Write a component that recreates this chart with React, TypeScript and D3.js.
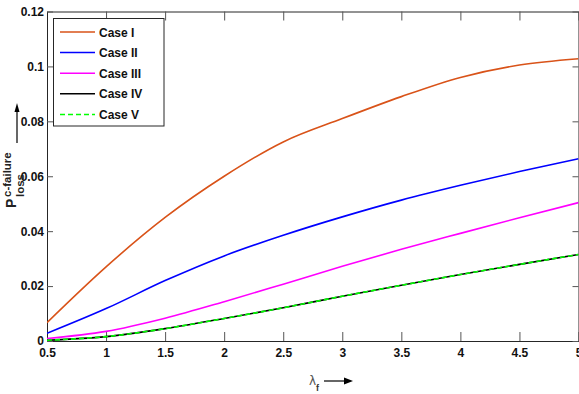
import { useRef, useEffect } from "react";
import * as d3 from "d3";

const lambdaF = [0.5, 1, 1.5, 2, 2.5, 3, 3.5, 4, 4.5, 5];
const caseI = [0.0067, 0.027, 0.045, 0.06, 0.0725, 0.081, 0.089, 0.096, 0.1005, 0.1028];
const caseII = [0.0028, 0.0118, 0.022, 0.031, 0.0385, 0.0452, 0.0513, 0.0567, 0.0617, 0.0664];
const caseIII = [0.0009, 0.0035, 0.0083, 0.0143, 0.0207, 0.0272, 0.0334, 0.0392, 0.0449, 0.0504];
const caseIV = [0.0003, 0.0016, 0.0045, 0.0082, 0.0121, 0.0163, 0.0203, 0.0242, 0.0279, 0.0315];
const caseV = [0.0003, 0.0016, 0.0045, 0.0082, 0.0121, 0.0163, 0.0203, 0.0242, 0.0279, 0.0315];

const seriesNames = ["Case I", "Case II", "Case III", "Case IV", "Case V"];
const xTicks = [0.5, 1, 1.5, 2, 2.5, 3, 3.5, 4, 4.5, 5];
const yTicks = [0, 0.02, 0.04, 0.06, 0.08, 0.1, 0.12];

const W = 579;
const H = 394;
const FONT = "'Liberation Sans Narrow', 'Arial Narrow', 'Liberation Sans', sans-serif";

export default function App() {
  const ref = useRef<SVGSVGElement | null>(null);

  useEffect(() => {
    const svg = d3.select(ref.current!);
    svg.selectAll("*").remove();

    const left = 47, right = 578.5, top = 11.5, bottom = 341;

    // scales
    const x = d3.scaleLinear().domain([0.5, 5]).range([left, right]);
    const y = d3.scaleLinear().domain([0, 0.12]).range([bottom, top]);
    const fmt = (d: any) => String(+(+d).toFixed(2));

    const styles = [
      { color: "#D95319", dash: null },
      { color: "#0000FF", dash: null },
      { color: "#FF00FF", dash: null },
      { color: "#000000", dash: null },
      { color: "#00FF00", dash: "5,3" },
    ];
    const all = [caseI, caseII, caseIII, caseIV, caseV];

    // axes
    const gx = svg.append("g").attr("transform", `translate(0,${bottom})`)
      .call(d3.axisBottom(x).tickValues(xTicks).tickFormat(fmt).tickSizeInner(-9).tickSizeOuter(0).tickPadding(7));
    const gxt = svg.append("g").attr("transform", `translate(0,${top})`)
      .call(d3.axisTop(x).tickValues(xTicks).tickFormat(() => "").tickSizeInner(-9).tickSizeOuter(0));
    const gy = svg.append("g").attr("transform", `translate(${left},0)`)
      .call(d3.axisLeft(y).tickValues(yTicks).tickFormat(fmt).tickSizeInner(-6).tickSizeOuter(0).tickPadding(3));
    const gyr = svg.append("g").attr("transform", `translate(${right},0)`)
      .call(d3.axisRight(y).tickValues(yTicks).tickFormat(() => "").tickSizeInner(-6).tickSizeOuter(0));

    [gx, gxt, gy, gyr].forEach((g) => {
      g.select(".domain").attr("stroke", "#262626").attr("stroke-width", 1);
      g.selectAll(".tick line").attr("stroke", "#555");
      g.selectAll("text")
        .attr("fill", "#111")
        .attr("font-family", FONT)
        .attr("font-weight", "bold")
        .attr("font-size", 12);
    });

    // clip
    svg.append("clipPath").attr("id", "plotclip")
      .append("rect").attr("x", left).attr("y", top).attr("width", right - left).attr("height", bottom - top);

    const lineGen = d3.line<number>()
      .x((d, i) => x(lambdaF[i]))
      .y((d) => y(d))
      .curve(d3.curveMonotoneX);

    const plot = svg.append("g").attr("clip-path", "url(#plotclip)");
    all.forEach((vals, k) => {
      plot.append("path")
        .attr("d", lineGen(vals)!)
        .attr("fill", "none")
        .attr("stroke", styles[k].color)
        .attr("stroke-width", 1.6)
        .attr("stroke-dasharray", styles[k].dash);
    });

    // legend
    const lg = svg.append("g");
    lg.append("rect")
      .attr("x", 53.5).attr("y", 18.5).attr("width", 110.5).attr("height", 107.5)
      .attr("fill", "#fff").attr("stroke", "#262626").attr("stroke-width", 1);
    seriesNames.forEach((name, k) => {
      const ry = 32 + k * 20.6;
      lg.append("line")
        .attr("x1", 60).attr("x2", 95).attr("y1", ry).attr("y2", ry)
        .attr("stroke", styles[k].color).attr("stroke-width", 1.5)
        .attr("stroke-dasharray", styles[k].dash);
      lg.append("text")
        .attr("x", 99).attr("y", ry + 4.5)
        .attr("font-family", FONT).attr("font-weight", "bold").attr("font-size", 12)
        .attr("fill", "#111")
        .text(name);
    });

    // y label
    const yl = svg.append("g").attr("transform", "translate(16,208) rotate(-90)");
    yl.append("text").attr("x", 0).attr("y", 0)
      .attr("font-family", FONT).attr("font-weight", "bold").attr("font-size", 14).attr("fill", "#222")
      .text("P");
    yl.append("text").attr("x", 11).attr("y", -5)
      .attr("font-family", FONT).attr("font-weight", "bold").attr("font-size", 11.5).attr("fill", "#222")
      .text("c-failure");
    yl.append("text").attr("x", 11).attr("y", 8)
      .attr("font-family", FONT).attr("font-weight", "bold").attr("font-size", 11.5).attr("fill", "#222")
      .text("loss");

    // arrows
    const arrowHead = (px: number, py: number, dir: "up" | "right") => {
      const pts = dir === "up"
        ? [[px, py], [px - 2.5, py + 9], [px + 2.5, py + 9]]
        : [[px, py], [px - 9, py - 3.5], [px - 9, py + 3.5]];
      svg.append("path").attr("d", d3.line()(pts as any)! + "Z").attr("fill", "#000");
    };
    svg.append("line").attr("x1", 17).attr("x2", 17).attr("y1", 143).attr("y2", 108)
      .attr("stroke", "#000").attr("stroke-width", 1.2);
    arrowHead(17, 103, "up");

    // x label
    const xl = svg.append("g");
    xl.append("text").attr("x", 309).attr("y", 385)
      .attr("font-family", "'DejaVu Sans', sans-serif").attr("font-size", 12).attr("fill", "#555")
      .text("λ");
    xl.append("text").attr("x", 316).attr("y", 391)
      .attr("font-family", FONT).attr("font-weight", "bold").attr("font-size", 9).attr("fill", "#333")
      .text("f");
    svg.append("line").attr("x1", 324).attr("x2", 346).attr("y1", 381).attr("y2", 381)
      .attr("stroke", "#000").attr("stroke-width", 1.2);
    arrowHead(353, 381, "right");
  }, []);

  return (
    <svg
      ref={ref}
      width={W}
      height={H}
      style={{ position: "absolute", left: 0, top: 0, background: "#fff" }}
    ></svg>
  );
}
